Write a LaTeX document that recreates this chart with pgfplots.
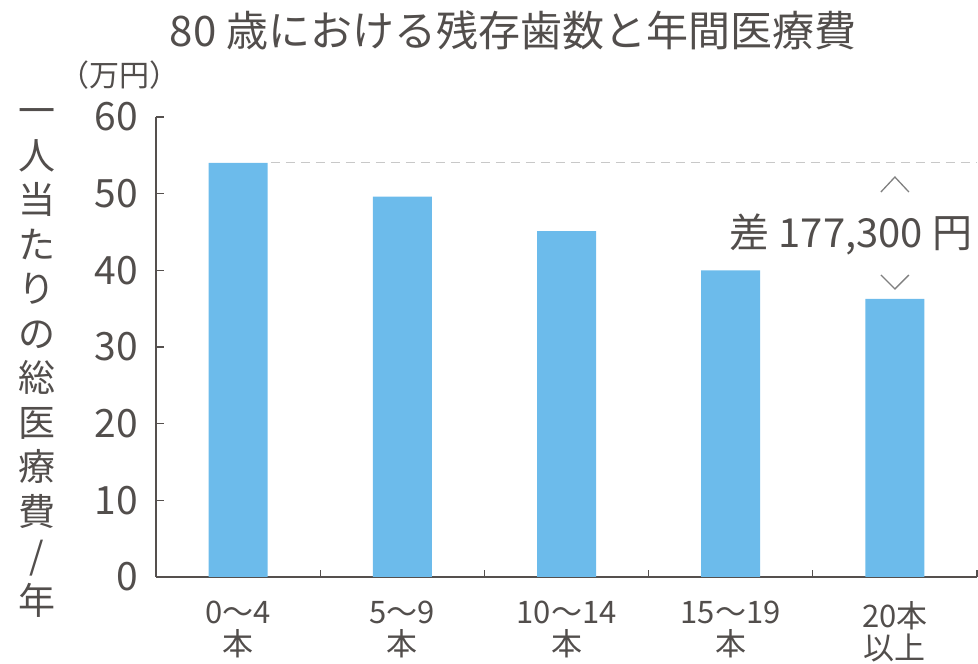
\documentclass[border=0pt]{standalone}
\usepackage{fontspec}
\setmainfont{Noto Sans CJK JP}
\usepackage{pgfplots}
\pgfplotsset{compat=1.18}
\definecolor{barblue}{RGB}{108,187,235}
\definecolor{txt}{RGB}{82,78,76}
\definecolor{axc}{RGB}{85,80,78}
\definecolor{dashgray}{RGB}{200,200,200}
\begin{document}
\begin{tikzpicture}[x=1pt,y=1pt]
\path[use as bounding box] (-156,-87) rectangle (822,577);
\begin{axis}[
 at={(0,0)}, anchor=south west, scale only axis,
 width=821pt, height=460pt,
 xmin=-0.5, xmax=4.5, ymin=0, ymax=60,
 axis x line=bottom, axis y line=left,
 axis line style={-, draw=axc, line width=1.2pt},
 xtick={0,1,2,3,4},
 xticklabels={{0～4\\本},{5～9\\本},{10～14\\本},{15～19\\本},{20本\\以上}},
 minor xtick={0.5,1.5,2.5,3.5,4.5},
 ytick={0,10,...,60},
 tick align=inside,
 major tick length=8pt, minor tick length=7pt,
 every tick/.style={draw=axc, line width=1.2pt},
 major x tick style={draw=none},
 /pgf/number format/assume math mode=true,
 yticklabel style={font=\fontsize{39}{39}\selectfont, text=txt, inner sep=0pt, anchor=east, xshift=-18pt},
 xticklabel style={font=\fontsize{31}{32}\selectfont, align=center, text=txt, inner sep=0pt, anchor=north, yshift=-24pt},
 clip=false,
]
\addplot[ybar, bar width=59pt, fill=barblue, draw=none] coordinates {(0,54) (1,49.6) (2,45.1) (3,40) (4,36.27)};
\addplot[draw=dashgray, line width=1pt, dash pattern=on 9pt off 6pt] coordinates {(0.2,54) (4.5,54)};
\draw[color=gray, line width=1.3pt] (axis cs:3.915,50.22) -- (axis cs:4,52.17) -- (axis cs:4.085,50.22);
\draw[color=gray, line width=1.3pt] (axis cs:3.915,39.39) -- (axis cs:4,37.57) -- (axis cs:4.085,39.39);
\node[font=\fontsize{40}{40}\selectfont, text=txt] at (axis cs:3.732,44.74) {差 177,300 円};
\end{axis}
\node[font=\fontsize{42}{42}\selectfont, text=txt] at (357,547) {80 歳における残存歯数と年間医療費};
\node[font=\fontsize{30}{30}\selectfont, text=txt] at (-36,502) {（万円）};
\node[font=\fontsize{37}{44.5}\selectfont, align=center, text=txt] at (-119,214) {一\\人\\当\\た\\り\\の\\総\\医\\療\\費\\/\\年};
\end{tikzpicture}
\end{document}
